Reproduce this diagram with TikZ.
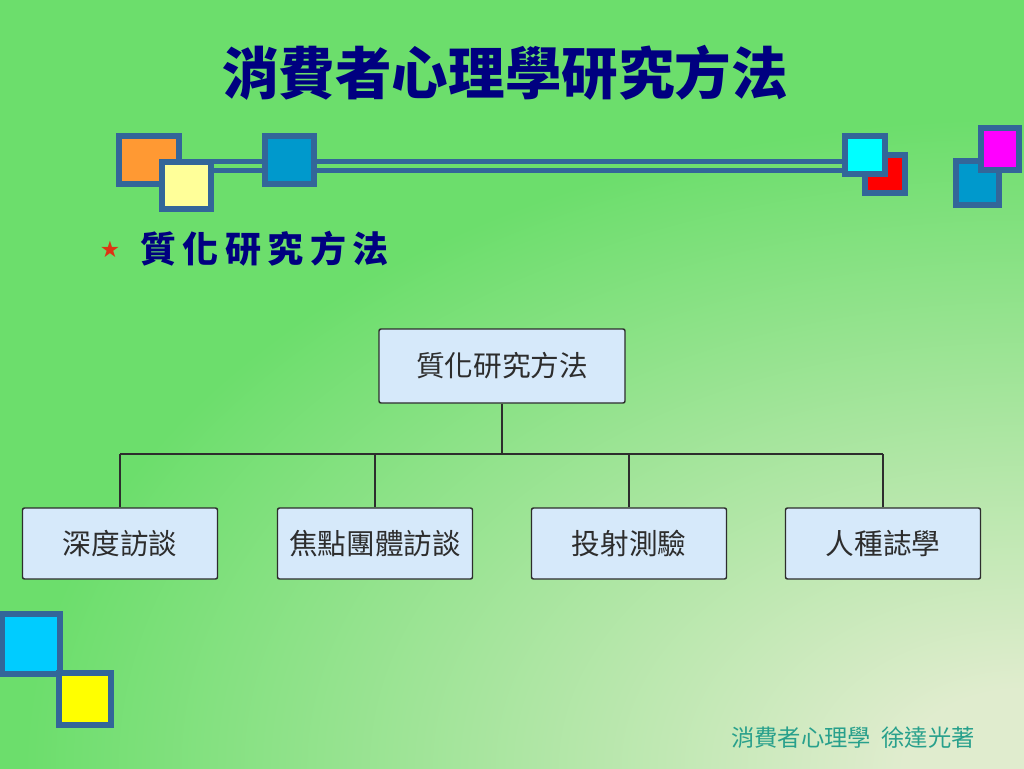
\documentclass[tikz,border=0pt]{standalone}
\usepackage{fontspec}
\newfontfamily\cjk{Noto Sans CJK TC}
\newfontfamily\symb{DejaVu Sans}

\definecolor{bggreen}{RGB}{108,222,108}
\definecolor{bgpale}{RGB}{224,236,206}
\definecolor{decoblue}{RGB}{51,102,153}
\definecolor{titlenavy}{RGB}{0,0,128}
\definecolor{starred}{RGB}{222,52,20}
\definecolor{boxfill}{RGB}{214,233,250}
\definecolor{boxline}{RGB}{45,45,45}
\definecolor{footteal}{RGB}{40,160,140}
\definecolor{tileorange}{RGB}{255,153,51}
\definecolor{tilecream}{RGB}{255,255,153}
\definecolor{tileblue}{RGB}{0,153,204}
\definecolor{tilecyan}{RGB}{0,255,255}
\definecolor{tilered}{RGB}{255,0,0}
\definecolor{tilemagenta}{RGB}{255,0,255}
\definecolor{tilesky}{RGB}{0,204,255}
\definecolor{tileyellow}{RGB}{255,255,0}
\pgfdeclareradialshading{slidebg}{\pgfpoint{0bp}{0bp}}{color(0bp)=(bgpale); color(3bp)=(bgpale); color(25bp)=(bggreen); color(50bp)=(bggreen)}

\begin{document}
\begin{tikzpicture}[x=0.75pt,y=0.75pt,yscale=-1,xscale=1,
  tile/.style={draw=decoblue, line width=4.5pt},
  chartbox/.style={draw=boxline, fill=boxfill, line width=1.1pt, rounded corners=1.5pt, text=boxline, font=\cjk\fontsize{21.5}{25}\selectfont},
  leafbox/.style={chartbox, minimum width=146.25pt, minimum height=53.25pt},
  link/.style={draw=boxline, line width=1.1pt}]
\useasboundingbox (0,0) rectangle (1024,768);

%Shape: Background
\fill[bggreen] (-2,-2) rectangle (1026,770);
\begin{scope}
\clip (-2,-2) rectangle (1026,770);
\shade[shading=slidebg] (1024,768) ellipse [x radius=750pt, y radius=487.5pt];
\end{scope}

%Shape: Line [bars]
\draw[decoblue, line width=3.75pt] (212,161.5) -- (845,161.5);
\draw[decoblue, line width=3.75pt] (212,170.5) -- (845,170.5);
%Shape: Square [top left]
\draw[tile, fill=tileorange] (119,136) rectangle (179,184);
\draw[tile, fill=tilecream] (162,162) rectangle (211,209);
\draw[tile, fill=tileblue] (265,136) rectangle (314,184);
%Shape: Square [top right]
\draw[tile, fill=tilered] (865,155) rectangle (905,193);
\draw[tile, fill=tilecyan] (845,136) rectangle (885,174);
\draw[tile, fill=tileblue] (956,161) rectangle (999,205);
\draw[tile, fill=tilemagenta] (981,128) rectangle (1019,170);
%Shape: Square [bottom left]
\draw[tile, fill=tilesky] (2,614) rectangle (60,674);
\draw[tile, fill=tileyellow] (59,673) rectangle (111,725);

% Text Node
\draw (505,73) node (title) [inner sep=0pt][text=titlenavy, font=\cjk\bfseries\fontsize{42.4}{50}\selectfont] {消費者心理學研究方法};
% Text Node
\draw (110,249) node (star) [inner sep=0pt][text=starred, font=\symb\fontsize{17}{20}\selectfont] {★};
% Text Node
\draw (140,249) node (sub) [anchor=west][inner sep=0pt][text=titlenavy, font=\cjk\bfseries\fontsize{27}{32}\selectfont\addfontfeature{LetterSpace=18}] {質化研究方法};

% Chart Nodes
\draw (502,366) node (root) [chartbox, minimum width=184.5pt, minimum height=55.5pt] {質化研究方法};
\draw (120,543.5) node (depth) [leafbox] {深度訪談};
\draw (375,543.5) node (focus) [leafbox] {焦點團體訪談};
\draw (629,543.5) node (proj) [leafbox] {投射測驗};
\draw (883,543.5) node (ethno) [leafbox] {人種誌學};

% Connectors
\coordinate (bus) at (502,454);
\draw[link] (root) -- (bus);
\draw[link] (depth.north |- bus) -- (ethno.north |- bus);
\foreach \leaf in {depth,focus,proj,ethno}
  \draw[link] (\leaf.north |- bus) -- (\leaf.north);

% Text Node
\draw (853,738) node (foot) [inner sep=0pt][text=footteal, font=\cjk\fontsize{17.5}{21}\selectfont] {消費者心理學\ \ 徐達光著};

\end{tikzpicture}
\end{document}
